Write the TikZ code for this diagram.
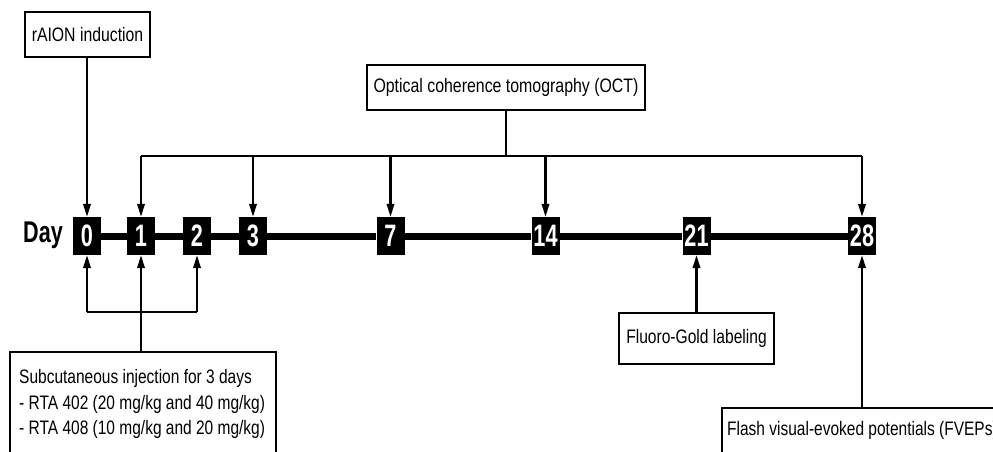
\documentclass[tikz,border=0pt]{standalone}
\usepackage{fontspec}
\setmainfont{Liberation Sans}
\usetikzlibrary{arrows.meta}
\newcommand{\nar}[2]{\scalebox{#1}[1]{#2}}
\tikzset{
  lbl/.style={draw, line width=2.2pt, inner sep=0pt, font=\fontsize{19.5}{22}\selectfont},
  txt/.style={inner sep=0pt, font=\fontsize{19.5}{25.5}\selectfont},
  daybox/.style={fill=black, minimum width=28pt, minimum height=38pt, inner sep=0pt,
     text=white, font=\bfseries\fontsize{31}{31}\selectfont},
  conn/.style={line width=2.2pt},
  arr/.style={conn, -{Triangle[length=13pt,width=7.5pt]}},
}
\begin{document}
\begin{tikzpicture}[x=1pt,y=-1pt]
\useasboundingbox (0,0) rectangle (993,452);
\clip (0,0) rectangle (993,452);
% timeline
\node[daybox] (d0) at (87,236) {\nar{0.7}{0}};
\node[daybox] (d1) at (141,236) {\nar{0.7}{1}};
\node[daybox] (d2) at (197,236) {\nar{0.7}{2}};
\node[daybox] (d3) at (253,236) {\nar{0.7}{3}};
\node[daybox] (d7) at (390.5,236) {\nar{0.7}{7}};
\node[daybox] (d14) at (545.5,236) {\nar{0.7}{14}};
\node[daybox] (d21) at (696.5,236) {\nar{0.7}{21}};
\node[daybox] (d28) at (862,236) {\nar{0.7}{28}};
\node[font=\bfseries\fontsize{30}{30}\selectfont, anchor=east, inner sep=0pt] (day) at (63,235) {\nar{0.72}{Day}};
% timeline bar segments
\foreach \a/\b in {d0/d1,d1/d2,d2/d3,d3/d7,d7/d14,d14/d21,d21/d28}
  \draw[line width=7pt] (\a.east) -- (\b.west);
% top boxes
\node[lbl, minimum width=125pt, minimum height=45pt] (raion) at (87.5,34.5) {\nar{0.81}{rAION induction}};
\node[lbl, minimum width=278pt, minimum height=45pt] (oct) at (506,87.5) {\nar{0.815}{Optical coherence tomography (OCT)}};
\draw[arr] (raion.south -| d0) -- (d0.north);
\coordinate (h) at (506,156);
\coordinate (hl) at (141,156);
\coordinate (hr) at (862,156);
\draw[conn] (oct.south) -- (h);
\draw[conn] (hl) -- (hr);
\foreach \d in {d1,d3,d7,d14,d28}
  \draw[arr] (hl -| \d) -- (\d.north);
% bottom boxes
\node[lbl, minimum width=266pt, minimum height=130pt, anchor=north west] (sub) at (9,351) {};
\node[txt, anchor=west, align=left] (subt) at (19,404)
  {\nar{0.795}{Subcutaneous injection for 3 days}\\\nar{0.795}{- RTA 402 (20 mg/kg and 40 mg/kg)}\\\nar{0.795}{- RTA 408 (10 mg/kg and 20 mg/kg)}};
\coordinate (b) at (141,312);
\coordinate (bl) at (87,312);
\coordinate (br) at (197,312);
\draw[conn] (bl) -- (br);
\draw[arr] (bl) -- (d0.south);
\draw[arr] (br) -- (d2.south);
\draw[arr] (sub.north -| d1) -- (d1.south);
\node[lbl, minimum width=155pt, minimum height=51pt] (fg) at (696.5,338.5) {\nar{0.8}{Fluoro-Gold labeling}};
\draw[arr] (fg.north -| d21) -- (d21.south);
\node[lbl, minimum width=290pt, minimum height=60pt, anchor=north west] (fv) at (721,407) {};
\node[txt, anchor=west] (fvt) at (727,430) {\nar{0.795}{Flash visual-evoked potentials (FVEPs)}};
\draw[arr] (fv.north -| d28) -- (d28.south);
\end{tikzpicture}
\end{document}
